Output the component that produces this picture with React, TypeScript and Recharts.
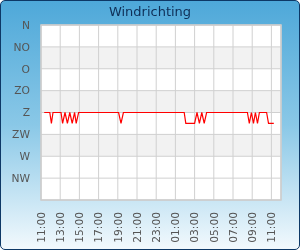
import { CartesianGrid, Line, LineChart, ReferenceArea, XAxis, YAxis } from 'recharts'

const TITLE = 'Windrichting'

// 16-point compass (Dutch), index = position on the y axis from the top
const DIRECTIONS = ['N', 'NNO', 'NO', 'ONO', 'O', 'OZO', 'ZO', 'ZZO', 'Z', 'ZZW', 'ZW', 'WZW', 'W', 'WNW', 'NW', 'NNW']
const Y_TICKS = [0, 2, 4, 6, 8, 10, 12, 14, 16]

// x axis: minutes since 11:00, one label every 2 hours
const X_TICKS = [0, 120, 240, 360, 480, 600, 720, 840, 960, 1080, 1200, 1320, 1440]
const X_LABELS = ['11:00', '13:00', '15:00', '17:00', '19:00', '21:00', '23:00', '01:00', '03:00', '05:00', '07:00', '09:00', '11:00']

// wind direction where it changes (minutes since 11:00)
const MINUTES = [
  20, 55, 65, 75, 125, 135, 150, 165, 180, 195, 210, 220, 235, 485, 500, 515, 895, 905, 960, 975, 990, 1005,
  1020, 1035, 1290, 1302, 1315, 1328, 1340, 1353, 1365, 1410, 1422, 1455,
]
const WIND = [
  'Z', 'Z', 'ZZW', 'Z', 'Z', 'ZZW', 'Z', 'ZZW', 'Z', 'ZZW', 'Z', 'ZZW', 'Z', 'Z', 'ZZW', 'Z', 'Z', 'ZZW', 'ZZW', 'Z',
  'ZZW', 'Z', 'ZZW', 'Z', 'Z', 'ZZW', 'Z', 'ZZW', 'Z', 'ZZW', 'Z', 'Z', 'ZZW', 'ZZW',
]

const data = MINUTES.map((t, i) => ({ t, dir: DIRECTIONS.indexOf(WIND[i]) }))

const FONT = '"DejaVu Sans", sans-serif'
const LABEL = '#555555'

function HourTick(props: any) {
  const { x, y, payload, index } = props
  return (
    <text
      x={x}
      y={y}
      dy="0.35em"
      transform={`rotate(-90 ${x} ${y})`}
      textAnchor="end"
      fill={LABEL}
      fontSize={10.7}
      fontFamily={FONT}
    >
      {X_LABELS[index] ?? payload.value}
    </text>
  )
}

export default function App() {
  return (
    <div
      style={{
        position: 'fixed',
        left: 0,
        top: 0,
        width: 300,
        height: 250,
        boxSizing: 'border-box',
        border: '1.5px solid #0d3866',
        borderRadius: 5,
        background: 'linear-gradient(to bottom, #4ea8d9 0%, #8ac8e7 50%, #f2f9fd 100%)',
        overflow: 'hidden',
        fontFamily: FONT,
      }}
    >
      <div
        style={{
          position: 'absolute',
          left: 0,
          top: 3,
          width: '100%',
          textAlign: 'center',
          fontSize: 13,
          color: '#0f2f57',
        }}
      >
        {TITLE}
      </div>
      <div style={{ position: 'absolute', left: -1.5, top: -1.5 }}>
        <LineChart width={300} height={250} data={data} margin={{ top: 25, right: 19, left: 0, bottom: 0 }}>
          <CartesianGrid
            stroke="#d0d0d0"
            horizontalFill={['#ffffff', '#f2f2f2', '#ffffff', '#f2f2f2', '#ffffff', '#f2f2f2', '#ffffff', '#ffffff']}
            fillOpacity={1}
          />
          <XAxis
            dataKey="t"
            type="number"
            domain={[0, 1500]}
            ticks={X_TICKS}
            interval={0}
            axisLine={false}
            tickLine={false}
            tickMargin={6}
            height={50}
            tick={<HourTick />}
          />
          <YAxis
            type="number"
            domain={[0, 16]}
            reversed
            ticks={Y_TICKS}
            interval={0}
            width={41}
            axisLine={false}
            tickLine={false}
            tickMargin={5}
            tick={{ fill: LABEL, fontSize: 10.7, fontFamily: FONT }}
            tickFormatter={(v: number) => (v < 16 ? DIRECTIONS[v] : '')}
          />
          <ReferenceArea x1={0} x2={1500} y1={0} y2={16} fill="none" stroke="#cccccc" strokeWidth={1.5} ifOverflow="visible" />
          <Line
            type="linear"
            dataKey="dir"
            stroke="#ff0000"
            strokeWidth={1.2}
            dot={false}
            isAnimationActive={false}
          />
        </LineChart>
      </div>
    </div>
  )
}
